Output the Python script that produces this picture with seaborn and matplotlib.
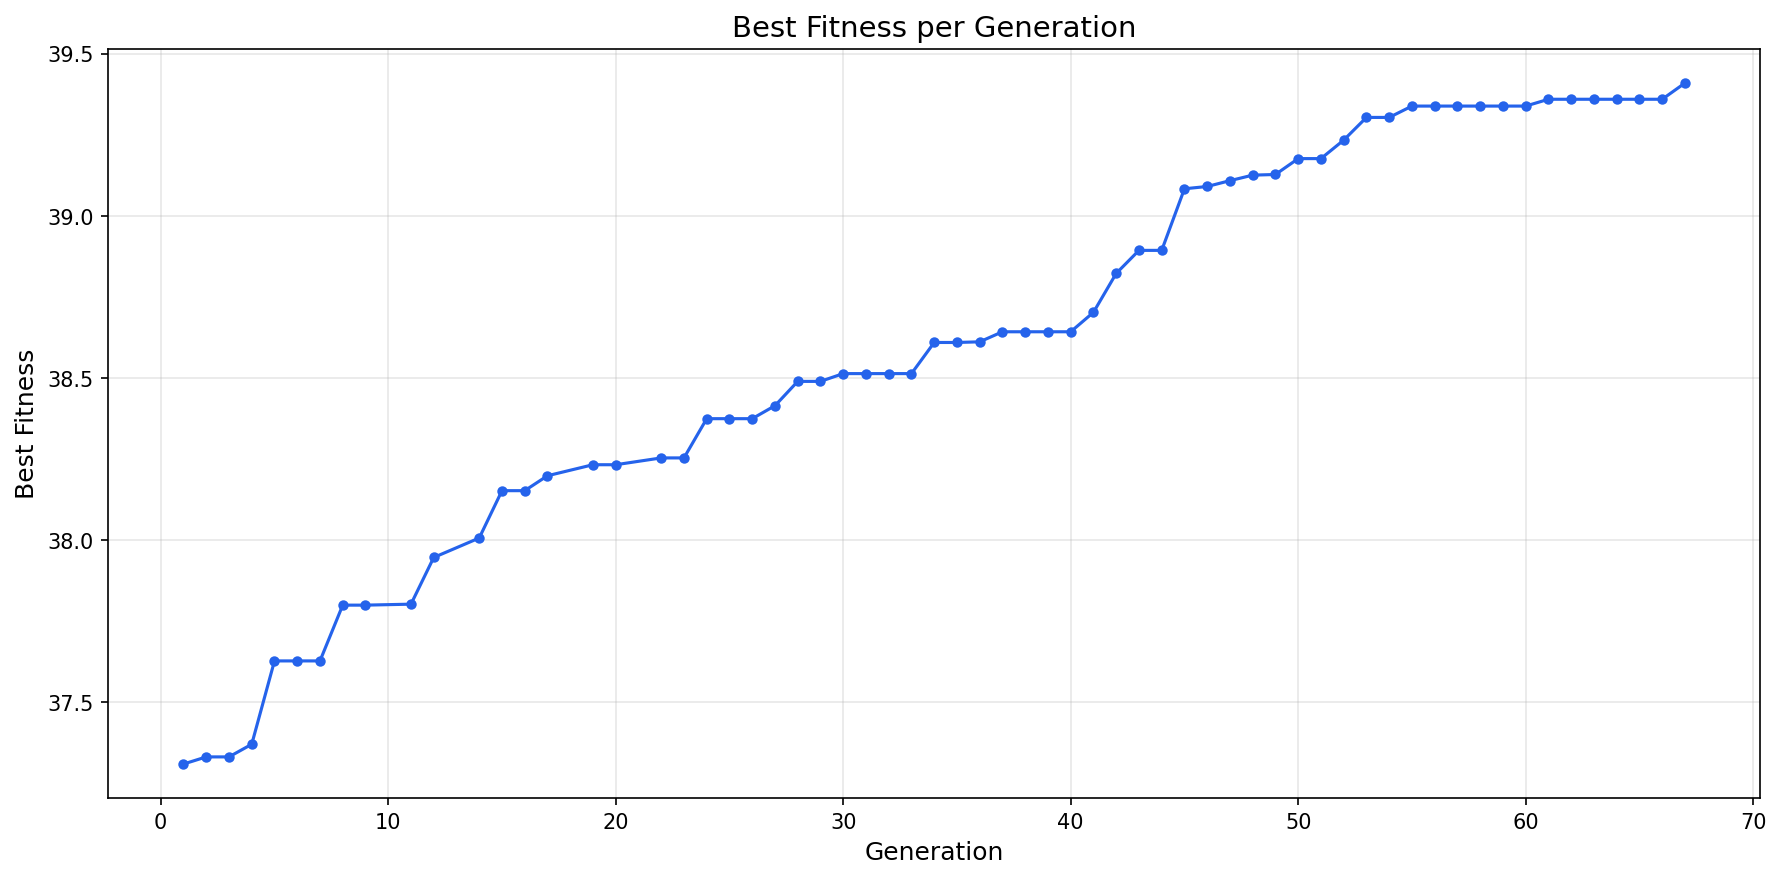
import numpy as np
import pandas as pd
import matplotlib
matplotlib.use("Agg")
import matplotlib.pyplot as plt
import seaborn as sns

# generations that were logged (10, 13, 18, 21 missing)
generations = [1, 2, 3, 4, 5, 6, 7, 8, 9, 11, 12, 14, 15, 16, 17, 19, 20, 22, 23,
               24, 25, 26, 27, 28, 29, 30, 31, 32, 33, 34, 35, 36, 37, 38, 39, 40,
               41, 42, 43, 44, 45, 46, 47, 48, 49, 50, 51, 52, 53, 54, 55, 56, 57,
               58, 59, 60, 61, 62, 63, 64, 65, 66, 67]

best_fitness = [37.310, 37.332, 37.332, 37.371, 37.628, 37.628, 37.628, 37.800,
                37.800, 37.803, 37.947, 38.007, 38.153, 38.153, 38.199, 38.233,
                38.233, 38.254, 38.254, 38.375, 38.375, 38.375, 38.415, 38.490,
                38.490, 38.514, 38.514, 38.514, 38.514, 38.610, 38.610, 38.612,
                38.643, 38.643, 38.643, 38.643, 38.703, 38.823, 38.894, 38.894,
                39.084, 39.091, 39.109, 39.126, 39.128, 39.177, 39.177, 39.234,
                39.304, 39.304, 39.339, 39.339, 39.339, 39.339, 39.339, 39.339,
                39.360, 39.360, 39.360, 39.360, 39.360, 39.360, 39.410]

df = pd.DataFrame({"Generation": generations, "Best Fitness": best_fitness})

fig, ax = plt.subplots(figsize=(12, 6))
sns.lineplot(data=df, x="Generation", y="Best Fitness", ax=ax,
             color="#2563eb", marker="o", markersize=5, linewidth=1.5,
             markeredgewidth=0)

ax.set_title("Best Fitness per Generation", fontsize=14)
ax.set_xlabel("Generation", fontsize=12)
ax.set_ylabel("Best Fitness", fontsize=12)
ax.grid(True, alpha=0.3)

plt.tight_layout()
plt.savefig("out.png", dpi=150, bbox_inches="tight")
